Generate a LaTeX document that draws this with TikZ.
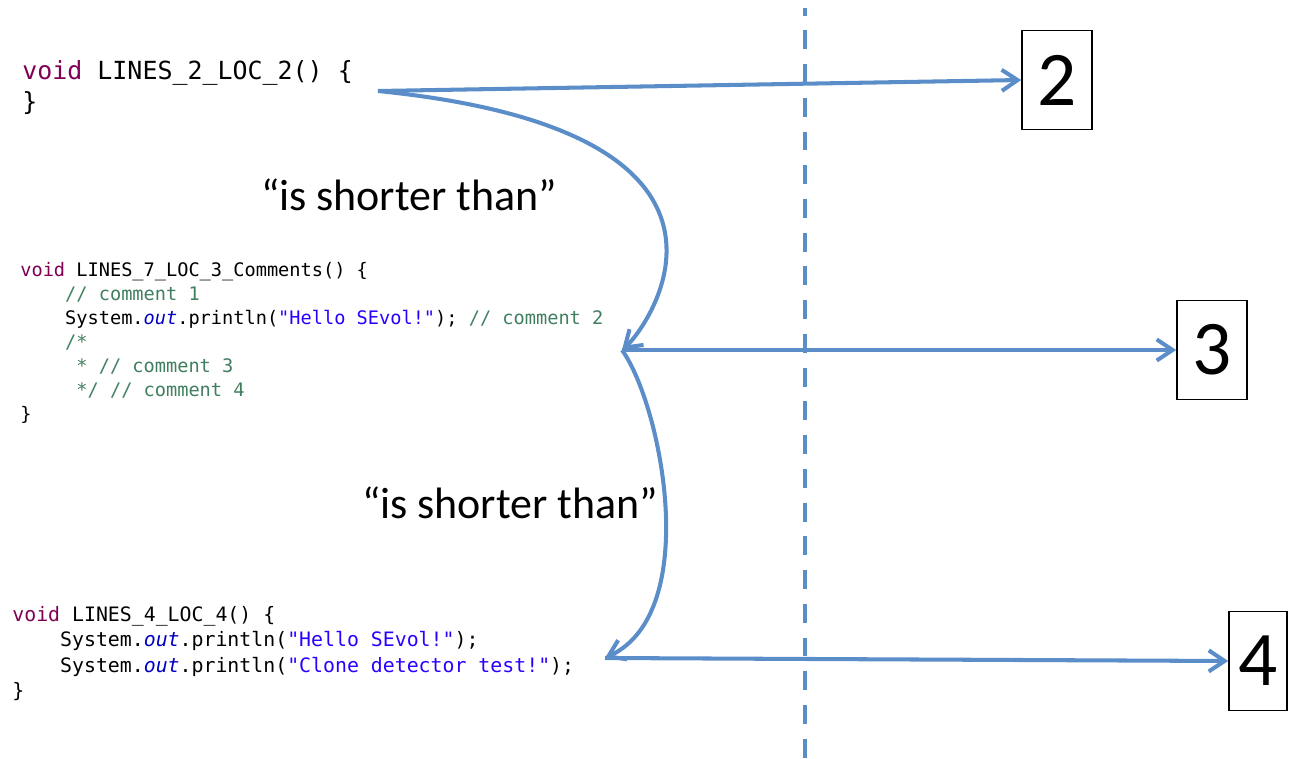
\documentclass[tikz,border=0pt]{standalone}
\usepackage{fontspec}
\setmainfont{Carlito}
\newfontfamily\codefont{DejaVu Sans Mono}
\usetikzlibrary{arrows.meta}

\definecolor{linkblue}{RGB}{91,141,201}
\definecolor{javakw}{RGB}{127,0,85}
\definecolor{javacom}{RGB}{63,127,95}
\definecolor{javastr}{RGB}{42,0,255}
\definecolor{javafld}{RGB}{0,0,192}

\newcommand{\jkw}[1]{\textcolor{javakw}{#1}}
\newcommand{\jcom}[1]{\textcolor{javacom}{#1}}
\newcommand{\jstr}[1]{\textcolor{javastr}{#1}}
\newcommand{\jfld}[1]{\textcolor{javafld}{\itshape #1}}
\newcommand{\jind}[1]{\hphantom{#1}}

\begin{document}
\begin{tikzpicture}[
            x = 0.02cm, y = -0.02cm, % one unit = one pixel of the slide
            > = {Straight Barb[length=9pt,width=12pt]}, % arrow head style
            link/.style = {draw=linkblue, line width=2.3pt, ->},
            code/.style = {anchor=north west, inner sep=0pt, align=left},
            locbox/.style = {shape=rectangle, draw, line width=0.9pt, inner sep=0pt,
                             minimum width=1.4cm, minimum height=1.98cm,
                             font=\fontsize{44}{44}\selectfont},
            relation/.style = {font=\fontsize{25}{30}\selectfont}
        ]
        \useasboundingbox (0,0) rectangle (1289,758);

        % the three methods
        \node[code, font=\codefont\fontsize{14.2}{18}\selectfont] (code2) at (22,60)
            {\jkw{void} LINES\_2\_LOC\_2() \{\\
             \}};
        \node[code, font=\codefont\fontsize{10.6}{13.7}\selectfont] (code3) at (20,262)
            {\jkw{void} LINES\_7\_LOC\_3\_Comments() \{\\
             \jind{0000}\jcom{// comment 1}\\
             \jind{0000}System.\jfld{out}.println(\jstr{"Hello SEvol!"}); \jcom{// comment 2}\\
             \jind{0000}\jcom{/*}\\
             \jind{00000}\jcom{* // comment 3}\\
             \jind{00000}\jcom{*/ // comment 4}\\
             \}};
        \node[code, font=\codefont\fontsize{11.3}{14.4}\selectfont] (code4) at (12,606)
            {\jkw{void} LINES\_4\_LOC\_4() \{\\
             \jind{0000}System.\jfld{out}.println(\jstr{"Hello SEvol!"});\\
             \jind{0000}System.\jfld{out}.println(\jstr{"Clone detector test!"});\\
             \}};

        % their LOC values
        \node[locbox] (loc2) at (1057,80)  {2};
        \node[locbox] (loc3) at (1212,350) {3};
        \node[locbox, minimum width=1.16cm] (loc4) at (1258,661) {4};

        \node[relation] (rel23) at (409,195) {“is shorter than”};
        \node[relation] (rel34) at (510,503) {“is shorter than”};

        \coordinate (end2) at (378,91);
        \coordinate (end3) at (622,350);
        \coordinate (end4) at (605,658);

        % threshold
        \coordinate (cut top) at (805,8);
        \coordinate (cut bot) at (805,758);
        \draw[linkblue, line width=2.3pt, dash pattern=on 10.8pt off 8.4pt, dash phase=6.5pt]
            (cut top) -- (cut bot);

        \path[link] (end2) -- (loc2.west);
        \path[link] (end3) -- (loc3.west);
        \path[link] (end4) -- (loc4.west);
        \path[link] (end2) .. controls (786,132) and (649,326) .. (end3);
        \path[link] (end3) .. controls (661,404) and (703,612) .. (end4);
    \end{tikzpicture}
\end{document}
